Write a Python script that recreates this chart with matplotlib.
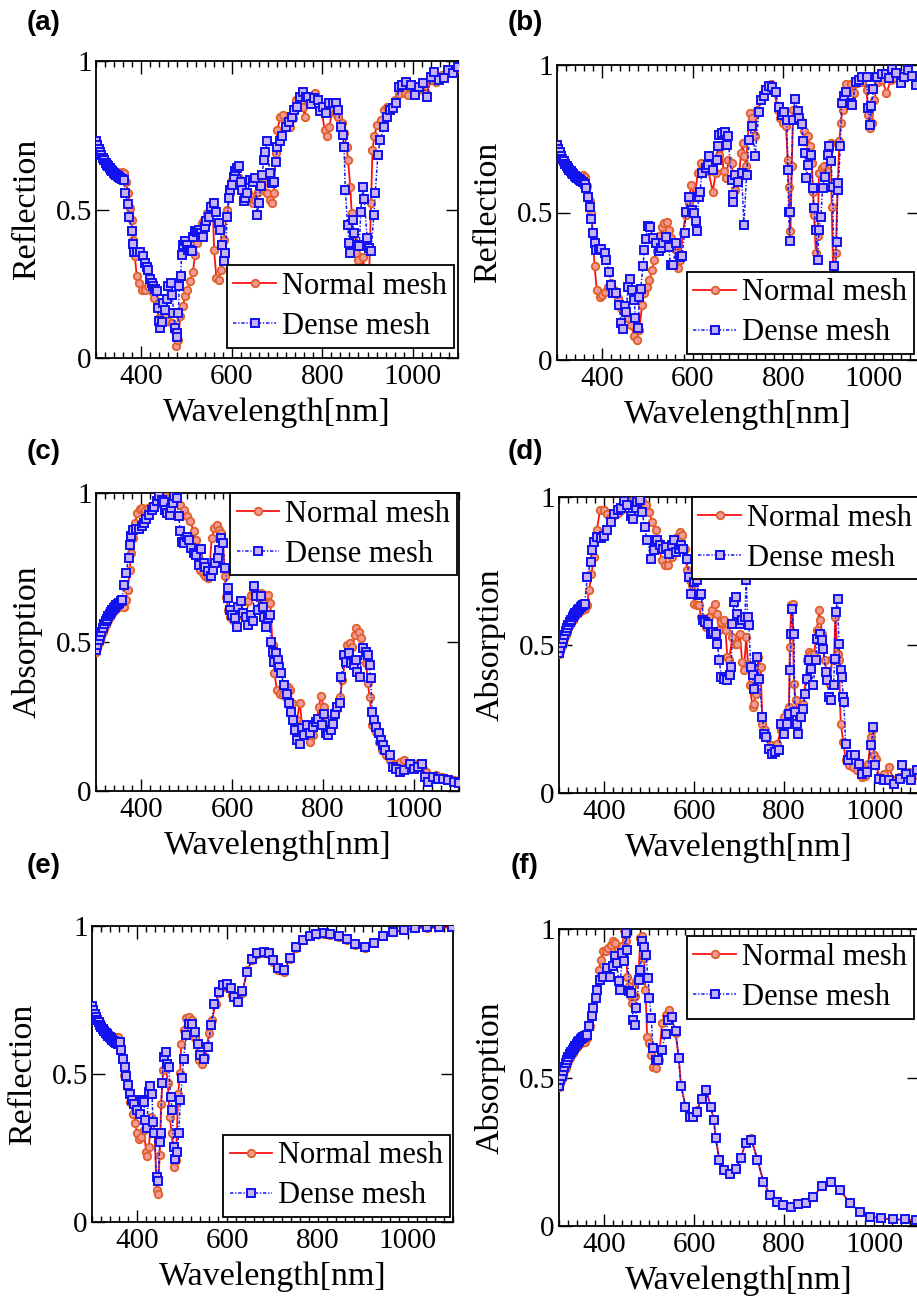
import matplotlib
matplotlib.use("Agg")
import matplotlib.pyplot as plt
from matplotlib.ticker import MultipleLocator, FixedLocator

W, H = 917, 1299
fig = plt.figure(figsize=(W / 100, H / 100), dpi=100)

SERIF = ["Liberation Serif", "DejaVu Serif"]
SANS = ["Liberation Sans", "DejaVu Sans"]

series_labels = ["Normal mesh", "Dense mesh"]
panel_letters = ["(a)", "(b)", "(c)", "(d)", "(e)", "(f)"]
y_labels = ["Reflection", "Reflection", "Absorption", "Absorption", "Reflection", "Absorption"]
x_label = "Wavelength[nm]"
x_ticks = [400, 600, 800, 1000]
y_ticks = [0, 0.5, 1]
y_tick_labels = ["0", "0.5", "1"]

# ---- shared short-wavelength start ----
R_start_dense = [(300, .729), (303, .716), (306, .704), (309, .693), (312, .683), (315, .674), (318, .666),
                 (321, .658), (324, .651), (327, .645), (330, .639), (333, .634), (336, .629), (339, .624),
                 (342, .620), (345, .616), (348, .612), (351, .609), (354, .606), (357, .603)]
R_start_normal = [(300, .727), (303, .716), (306, .705), (309, .695), (312, .686), (315, .678), (318, .670),
                  (321, .663), (324, .656), (327, .650), (330, .645), (333, .640), (336, .636), (339, .632),
                  (342, .628), (345, .625), (348, .623), (351, .622), (354, .624), (357, .626)]
A_start_dense = [(300, .473), (303, .490), (306, .506), (309, .521), (312, .535), (315, .548), (318, .559),
                 (321, .569), (324, .578), (327, .586), (330, .594), (333, .601), (336, .607), (339, .613),
                 (342, .618), (345, .623), (348, .628), (351, .632), (354, .636), (357, .640)]
A_start_normal = [(300, .468), (303, .481), (306, .495), (309, .508), (312, .521), (315, .533), (318, .545),
                  (321, .556), (324, .566), (327, .575), (330, .583), (333, .591), (336, .598), (339, .604),
                  (342, .609), (345, .613), (348, .617), (351, .619), (354, .620), (357, .621)]

# ---- panel (a) ----
a_normal = R_start_normal + [
    (361, .622), (366, .594), (371, .555), (375, .504), (379, .465), (382, .398), (386, .342), (390, .275),
    (396, .252), (401, .230), (408, .228), (416, .241), (423, .224), (428, .202), (434, .168), (440, .135),
    (445, .129), (452, .140), (460, .123), (467, .118), (473, .095), (477, .039), (482, .062), (486, .140),
    (492, .174), (497, .210), (502, .230), (508, .258), (514, .288), (519, .348), (523, .387), (528, .420),
    (534, .454), (539, .465), (545, .488), (552, .516), (558, .510), (561, .364), (566, .269), (571, .263),
    (576, .297), (582, .398), (590, .499), (596, .555), (601, .600), (608, .617), (616, .605), (623, .577),
    (629, .544), (636, .555), (641, .544), (647, .521), (652, .532), (657, .560), (663, .583), (671, .594),
    (677, .555), (684, .532), (689, .521), (693, .555), (697, .689), (701, .768), (707, .813), (714, .818),
    (722, .801), (729, .779), (736, .807), (741, .869), (749, .874), (757, .846), (761, .813), (767, .869),
    (775, .880), (784, .891), (791, .869), (799, .835), (805, .768), (811, .746), (816, .779), (822, .835),
    (829, .824), (835, .813), (843, .790), (848, .757), (854, .712), (857, .667), (862, .577), (865, .488),
    (869, .398), (874, .353), (879, .330), (884, .270), (889, .340), (894, .300), (900, .270), (904, .300),
    (908, .521), (911, .700), (915, .746), (921, .785), (930, .800), (937, .835), (944, .846), (953, .835),
    (961, .869), (970, .889), (982, .891), (990, .886), (1000, .902), (1012, .902), (1020, .920), (1030, .891),
    (1041, .936), (1052, .930), (1064, .953), (1077, .964), (1090, .964), (1100, .975)]
a_dense = R_start_dense + [
    (361, .600), (365, .557), (370, .520), (373, .476), (379, .428), (381, .383), (385, .356), (391, .356),
    (397, .356), (403, .342), (408, .320), (413, .305), (416, .295), (419, .266), (423, .252), (427, .241),
    (431, .232), (434, .224), (436, .168), (439, .125), (442, .100), (446, .120), (449, .185), (452, .163),
    (456, .200), (460, .243), (465, .254), (469, .213), (471, .151), (475, .100), (478, .085), (480, .070),
    (482, .150), (484, .241), (487, .275), (489, .348), (493, .381), (497, .395), (500, .380), (504, .364),
    (508, .362), (512, .359), (514, .409), (519, .429), (524, .425), (528, .432), (532, .420), (536, .409),
    (540, .440), (544, .460), (549, .476), (555, .510), (560, .521), (566, .493), (571, .456), (575, .432),
    (578, .381), (582, .325), (586, .353), (590, .476), (594, .540), (597, .566), (601, .583), (604, .611),
    (608, .628), (612, .639), (617, .645), (621, .594), (623, .566), (627, .527), (630, .540), (634, .555),
    (641, .600), (647, .594), (652, .605), (656, .482), (660, .521), (664, .580), (667, .617), (671, .667),
    (674, .695), (678, .729), (684, .622), (689, .589), (694, .594), (697, .660), (701, .712), (707, .729),
    (712, .746), (719, .779), (727, .796), (733, .813), (738, .835), (744, .846), (750, .880), (757, .897),
    (764, .880), (769, .878), (775, .855), (782, .875), (790, .869), (796, .830), (801, .846), (808, .826),
    (816, .857), (823, .857), (830, .857), (835, .835), (841, .779), (845, .751), (848, .712), (851, .566),
    (856, .448), (860, .387), (862, .353), (867, .465), (871, .420), (876, .381), (882, .376), (885, .493),
    (889, .577), (893, .535), (899, .404), (904, .370), (908, .359), (914, .482), (917, .555), (923, .684),
    (928, .734), (936, .779), (944, .813), (949, .835), (956, .841), (964, .857), (970, .911), (977, .920),
    (986, .930), (996, .920), (1004, .886), (1014, .911), (1023, .925), (1031, .880), (1041, .947),
    (1048, .964), (1059, .936), (1068, .942), (1079, .970), (1089, .958), (1100, .980)]

# ---- panel (b) ----
b_normal = R_start_normal + [
    (362, .620), (367, .590), (372, .540), (376, .498), (379, .430), (383, .317), (388, .238), (394, .215),
    (400, .221), (405, .232), (412, .249), (420, .260), (427, .238), (434, .209), (442, .175), (449, .164),
    (457, .141), (463, .119), (471, .081), (477, .068), (482, .102), (488, .187), (493, .226), (499, .249),
    (504, .271), (510, .305), (515, .339), (520, .368), (526, .419), (532, .452), (537, .464), (543, .469),
    (547, .441), (552, .413), (560, .376), (567, .311), (572, .339), (578, .430), (584, .492), (591, .532),
    (596, .594), (604, .554), (611, .633), (618, .667), (626, .656), (635, .639), (644, .571), (651, .633),
    (657, .696), (664, .724), (668, .639), (674, .617), (679, .679), (686, .667), (693, .577), (701, .611),
    (707, .701), (710, .735), (714, .690), (718, .656), (721, .747), (726, .837), (732, .820), (738, .758),
    (743, .848), (751, .882), (758, .905), (765, .919), (773, .934), (780, .910), (788, .848), (793, .820),
    (800, .803), (806, .792), (810, .679), (812, .588), (814, .498), (816, .436), (819, .656), (822, .848),
    (828, .831), (834, .820), (839, .809), (846, .775), (854, .758), (859, .724), (863, .667), (866, .571),
    (868, .492), (872, .362), (876, .419), (879, .633), (885, .650), (890, .656), (896, .639), (901, .713),
    (905, .735), (907, .520), (910, .317), (913, .150), (916, .362), (920, .577), (924, .741), (927, .803),
    (931, .848), (938, .934), (949, .934), (957, .905), (964, .939), (975, .944), (984, .916), (988, .831),
    (991, .786), (996, .803), (1001, .882), (1010, .944), (1019, .950), (1028, .905), (1038, .950),
    (1049, .956), (1060, .944), (1071, .967), (1084, .962), (1093, .950)]
b_dense = R_start_dense + [
    (362, .598), (365, .583), (368, .554), (372, .520), (376, .477), (379, .430), (383, .396), (387, .373),
    (392, .376), (398, .376), (405, .362), (409, .339), (415, .300), (420, .255), (424, .226), (431, .226),
    (437, .187), (442, .124), (446, .104), (451, .183), (453, .164), (457, .249), (462, .274), (466, .238),
    (471, .204), (473, .141), (479, .107), (482, .213), (485, .240), (490, .317), (493, .373), (496, .410),
    (501, .455), (506, .452), (512, .413), (519, .396), (525, .371), (529, .379), (534, .396), (541, .416),
    (547, .382), (551, .322), (557, .322), (563, .396), (571, .348), (576, .351), (582, .430), (585, .503),
    (591, .554), (598, .507), (602, .498), (607, .470), (609, .436), (613, .554), (616, .568), (620, .633),
    (629, .650), (633, .662), (637, .692), (645, .645), (654, .679), (655, .724), (659, .764), (665, .770),
    (671, .772), (675, .730), (678, .758), (686, .611), (688, .560), (689, .537), (693, .628), (701, .605),
    (708, .633), (713, .458), (719, .628), (725, .747), (731, .792), (738, .692), (746, .839), (751, .882),
    (757, .896), (762, .916), (769, .929), (776, .925), (783, .910), (790, .857), (797, .829), (802, .840),
    (808, .812), (810, .645), (812, .503), (814, .402), (816, .503), (821, .814), (826, .885), (832, .843),
    (835, .820), (841, .801), (844, .741), (848, .701), (851, .617), (855, .662), (861, .696), (865, .583),
    (868, .515), (872, .441), (876, .339), (879, .441), (883, .486), (887, .583), (892, .622), (898, .696),
    (901, .724), (905, .673), (909, .588), (912, .317), (914, .220), (918, .400), (920, .577), (922, .600),
    (926, .724), (929, .871), (935, .894), (938, .910), (949, .871), (953, .865), (960, .944), (968, .948),
    (975, .959), (984, .959), (988, .854), (991, .797), (995, .862), (999, .919), (1008, .959), (1018, .968),
    (1026, .971), (1034, .957), (1041, .985), (1050, .973), (1060, .939), (1067, .959), (1076, .982),
    (1085, .962), (1093, .933)]

# ---- panel (c) ----
c_normal = A_start_normal + [
    (361, .619), (366, .641), (370, .675), (374, .742), (378, .798), (382, .849), (386, .899), (391, .933),
    (396, .946), (402, .950), (408, .944), (415, .950), (421, .955), (428, .957), (435, .964), (443, .972),
    (450, .980), (457, .989), (465, .991), (472, .983), (479, .978), (486, .961), (494, .944), (501, .924),
    (508, .905), (515, .871), (520, .843), (525, .787), (530, .742), (535, .731), (540, .720), (546, .714),
    (551, .765), (555, .849), (561, .882), (566, .894), (571, .877), (576, .866), (580, .832), (584, .720),
    (587, .652), (591, .608), (595, .585), (602, .574), (609, .591), (616, .591), (624, .602), (631, .591),
    (636, .636), (642, .658), (649, .664), (656, .652), (664, .664), (671, .630), (678, .658), (684, .630),
    (689, .490), (693, .395), (699, .339), (706, .327), (713, .322), (719, .316), (724, .350), (728, .339),
    (733, .294), (739, .226), (743, .238), (749, .296), (754, .226), (762, .215), (771, .165), (778, .187),
    (786, .226), (791, .283), (796, .318), (802, .283), (809, .243), (816, .221), (823, .232), (830, .271),
    (838, .316), (843, .372), (849, .440), (854, .490), (860, .496), (865, .484), (871, .524), (874, .546),
    (880, .535), (885, .512), (888, .484), (892, .468), (896, .428), (899, .361), (903, .316), (909, .221),
    (916, .198), (924, .165), (931, .137), (940, .120), (949, .103), (958, .092), (969, .098), (978, .103),
    (991, .086), (1002, .092), (1013, .092), (1020, .075), (1028, .064), (1039, .047), (1050, .053),
    (1063, .047), (1076, .041), (1089, .036), (1100, .030)]
c_dense = A_start_dense + [
    (362, .692), (366, .731), (372, .781), (375, .826), (378, .856), (382, .877), (388, .879), (395, .879),
    (401, .888), (406, .899), (411, .913), (417, .927), (423, .944), (428, .953), (434, .972), (439, .989),
    (445, .978), (450, .969), (453, .944), (457, .933), (462, .927), (466, .950), (469, .966), (473, .989),
    (478, .983), (482, .922), (486, .871), (489, .837), (495, .832), (500, .854), (505, .843), (510, .815),
    (515, .798), (520, .793), (526, .759), (531, .812), (537, .765), (540, .753), (546, .737), (553, .720),
    (558, .742), (563, .765), (568, .781), (571, .809), (576, .849), (580, .832), (584, .748), (590, .681),
    (592, .647), (596, .608), (600, .591), (606, .580), (610, .552), (614, .619), (619, .636), (624, .596),
    (631, .585), (635, .557), (641, .591), (646, .572), (649, .688), (653, .653), (658, .608), (664, .653),
    (667, .619), (671, .585), (675, .552), (680, .580), (683, .591), (685, .501), (689, .467), (693, .433),
    (696, .462), (700, .439), (703, .417), (708, .395), (714, .355), (720, .327), (725, .294), (730, .266),
    (734, .238), (738, .204), (743, .170), (749, .159), (754, .210), (759, .187), (765, .221), (772, .193),
    (778, .215), (785, .232), (790, .243), (798, .221), (803, .260), (807, .193), (812, .187), (818, .204),
    (823, .226), (827, .260), (832, .283), (838, .294), (841, .383), (847, .456), (852, .434), (858, .462),
    (863, .428), (868, .423), (872, .440), (876, .400), (881, .383), (888, .479), (894, .468), (899, .456),
    (903, .423), (905, .378), (909, .266), (913, .238), (918, .215), (924, .193), (929, .170), (932, .154),
    (938, .137), (947, .120), (954, .081), (962, .075), (969, .064), (978, .070), (991, .092), (1000, .075),
    (1010, .081), (1019, .092), (1024, .047), (1032, .030), (1043, .047), (1054, .041), (1065, .041),
    (1076, .036), (1089, .030), (1100, .028)]

# ---- panel (d) ----
d_normal = A_start_normal + [
    (362, .635), (367, .685), (372, .741), (378, .797), (384, .887), (391, .955), (399, .957), (406, .944),
    (413, .930), (422, .938), (430, .946), (437, .955), (444, .968), (452, .980), (463, .986), (470, .991),
    (478, .994), (485, .986), (493, .972), (500, .949), (507, .916), (515, .887), (522, .848), (528, .786),
    (535, .769), (542, .769), (550, .797), (557, .825), (563, .865), (568, .882), (574, .871), (579, .825),
    (585, .752), (591, .718), (596, .702), (600, .640), (606, .634), (611, .634), (616, .595), (626, .561),
    (633, .595), (641, .617), (646, .640), (650, .606), (656, .550), (661, .578), (667, .583), (670, .550),
    (674, .459), (678, .448), (685, .527), (690, .505), (696, .505), (702, .538), (707, .443), (711, .414),
    (716, .527), (720, .437), (724, .364), (730, .291), (733, .302), (737, .336), (743, .459), (748, .426),
    (752, .234), (757, .212), (763, .189), (770, .161), (778, .150), (785, .167), (793, .212), (800, .257),
    (807, .273), (811, .291), (813, .493), (816, .634), (819, .640), (822, .369), (826, .313), (831, .268),
    (837, .285), (843, .302), (848, .386), (852, .448), (856, .476), (861, .471), (867, .471), (873, .550),
    (878, .617), (881, .583), (885, .538), (890, .448), (896, .403), (902, .369), (907, .454), (911, .448),
    (914, .595), (919, .471), (922, .448), (926, .234), (932, .172), (937, .110), (944, .093), (954, .088),
    (963, .077), (974, .054), (981, .059), (987, .099), (993, .189), (996, .212), (1000, .127), (1004, .116),
    (1011, .054), (1022, .065), (1033, .088), (1044, .043), (1056, .054), (1067, .054), (1078, .071),
    (1093, .060)]
d_dense = A_start_dense + [
    (363, .730), (370, .780), (374, .820), (378, .848), (384, .865), (393, .863), (400, .867), (407, .887),
    (415, .915), (422, .944), (430, .955), (437, .964), (444, .986), (452, .972), (459, .935), (465, .927),
    (470, .964), (474, .983), (479, .989), (485, .950), (490, .899), (496, .854), (504, .792), (510, .820),
    (517, .854), (524, .837), (532, .825), (537, .831), (544, .809), (550, .837), (555, .854), (561, .814),
    (567, .825), (572, .837), (576, .825), (584, .792), (589, .730), (593, .673), (600, .713), (606, .718),
    (611, .668), (616, .673), (621, .583), (625, .578), (630, .572), (637, .538), (642, .544), (648, .538),
    (652, .505), (656, .448), (661, .392), (667, .386), (674, .381), (680, .398), (683, .426), (685, .572),
    (689, .645), (693, .662), (696, .606), (702, .572), (707, .583), (713, .595), (716, .718), (719, .595),
    (722, .566), (726, .426), (730, .398), (733, .352), (740, .459), (745, .386), (752, .257), (756, .200),
    (759, .189), (767, .150), (774, .133), (781, .139), (789, .144), (794, .234), (800, .200), (806, .234),
    (811, .268), (813, .414), (816, .538), (818, .623), (822, .538), (824, .273), (828, .234), (831, .200),
    (837, .257), (843, .285), (847, .336), (851, .386), (855, .448), (859, .420), (865, .364), (870, .448),
    (874, .521), (880, .538), (884, .516), (887, .488), (893, .409), (896, .381), (900, .324), (904, .313),
    (910, .364), (913, .454), (915, .611), (919, .657), (922, .505), (926, .414), (928, .392), (932, .324),
    (933, .307), (937, .167), (942, .110), (949, .127), (957, .127), (967, .099), (974, .065), (985, .071),
    (994, .161), (998, .223), (1002, .093), (1011, .048), (1022, .043), (1033, .043), (1044, .032),
    (1058, .048), (1063, .093), (1070, .065), (1083, .043), (1096, .077)]

# ---- panel (e) ----
e_normal = R_start_normal + [
    (360, .610), (363, .581), (367, .547), (372, .496), (378, .457), (385, .406), (391, .366), (396, .333),
    (400, .299), (404, .282), (409, .287), (415, .310), (420, .237), (422, .222), (426, .254), (431, .355),
    (435, .338), (439, .304), (443, .107), (446, .096), (450, .225), (453, .400), (458, .513), (463, .535),
    (468, .468), (472, .355), (477, .299), (481, .186), (486, .209), (491, .434), (495, .502), (498, .603),
    (503, .648), (509, .688), (515, .693), (522, .682), (529, .620), (537, .547), (544, .535), (551, .558),
    (559, .637), (566, .682), (574, .738), (581, .772), (590, .795), (600, .797), (611, .767), (622, .744),
    (633, .772), (644, .851), (655, .885), (666, .905), (681, .910), (692, .905), (702, .880), (712, .852),
    (725, .845), (738, .888), (753, .925), (768, .952), (783, .965), (797, .972), (814, .974), (828, .971),
    (847, .964), (864, .952), (883, .935), (904, .925), (925, .942), (945, .965), (968, .980), (991, .986),
    (1016, .993), (1043, .994), (1069, .995), (1098, .995)]
e_dense = R_start_dense + [
    (362, .609), (365, .581), (369, .552), (373, .524), (376, .493), (380, .462), (384, .434), (389, .411),
    (394, .400), (400, .378), (406, .366), (411, .411), (415, .406), (417, .344), (421, .316), (426, .440),
    (429, .459), (433, .434), (435, .338), (438, .299), (443, .152), (446, .139), (450, .271), (452, .299),
    (455, .468), (459, .558), (463, .575), (466, .535), (470, .524), (474, .423), (478, .378), (481, .254),
    (485, .214), (489, .237), (492, .299), (496, .411), (500, .488), (503, .552), (509, .631), (515, .669),
    (522, .669), (528, .643), (535, .601), (540, .564), (548, .552), (557, .590), (564, .665), (571, .738),
    (581, .778), (590, .800), (600, .803), (607, .789), (614, .761), (623, .744), (633, .781), (644, .846),
    (655, .887), (666, .908), (681, .913), (692, .908), (702, .885), (712, .857), (725, .851), (738, .891),
    (753, .928), (768, .953), (783, .966), (797, .973), (814, .975), (828, .972), (847, .966), (864, .955),
    (883, .939), (904, .928), (925, .944), (945, .966), (968, .981), (991, .986), (1016, .994), (1043, .995),
    (1069, .995), (1098, .995)]

# ---- panel (f) ----
f_normal = A_start_normal + [
    (363, .633), (368, .672), (374, .717), (382, .773), (389, .863), (393, .897), (398, .925), (404, .925),
    (409, .936), (415, .947), (421, .958), (424, .953), (430, .930), (435, .897), (441, .942), (444, .996),
    (448, .958), (452, .840), (456, .807), (459, .773), (463, .751), (468, .773), (472, .824), (477, .863),
    (481, .970), (485, .975), (489, .902), (492, .796), (496, .638), (501, .616), (505, .576), (509, .537),
    (515, .531), (522, .560), (529, .683), (537, .711), (544, .728), (550, .706), (559, .649), (566, .570),
    (571, .475), (581, .405), (591, .372), (598, .370), (607, .390), (617, .432), (627, .462), (637, .402),
    (644, .360), (648, .300), (656, .225), (666, .190), (680, .178), (693, .192), (704, .230), (715, .283),
    (727, .295), (741, .225), (754, .150), (769, .105), (784, .083), (798, .072), (815, .066), (831, .073),
    (848, .080), (865, .097), (884, .135), (905, .150), (925, .122), (946, .077), (968, .049), (992, .032),
    (1016, .026), (1042, .022), (1068, .022), (1094, .020)]
f_dense = A_start_dense + [
    (363, .644), (367, .672), (373, .706), (376, .734), (382, .767), (385, .796), (391, .829), (398, .840),
    (406, .868), (413, .840), (421, .874), (424, .908), (428, .885), (433, .824), (435, .796), (441, .919),
    (444, .891), (448, .987), (452, .930), (456, .790), (461, .784), (465, .694), (468, .678), (472, .734),
    (477, .829), (481, .863), (485, .958), (489, .941), (493, .913), (498, .835), (501, .767), (505, .700),
    (509, .599), (515, .560), (520, .560), (528, .593), (537, .647), (543, .692), (550, .703), (559, .655),
    (566, .565), (571, .470), (581, .402), (591, .366), (598, .366), (607, .385), (617, .427), (627, .458),
    (637, .399), (644, .357), (648, .296), (656, .222), (666, .187), (680, .175), (693, .191), (704, .228),
    (715, .279), (727, .290), (741, .222), (754, .149), (769, .104), (784, .082), (798, .071), (815, .065),
    (831, .073), (848, .079), (865, .096), (884, .133), (905, .149), (925, .121), (946, .076), (968, .048),
    (992, .031), (1016, .026), (1042, .022), (1068, .022), (1094, .020)]

# ---- layout (pixel boxes: left, top, right, bottom) ----
boxes = [(96, 61, 458, 358), (557, 65, 919, 360),
         (96, 493, 459, 791), (559, 497, 919, 793),
         (92, 926, 453, 1222), (559, 929, 919, 1226)]
letter_pos = [(44, 23), (525, 23), (44, 452), (525, 452), (44, 866), (525, 866)]
legend_loc = ["lower right", "lower right", "upper right", "upper right", "lower right", "upper right"]
legend_anchor = [(0.989, 0.034), (0.986, 0.02), (0.995, 1.0), (1.0, 1.0), (0.992, 0.017), (0.986, 0.976)]

data = [(a_normal, a_dense), (b_normal, b_dense), (c_normal, c_dense),
        (d_normal, d_dense), (e_normal, e_dense), (f_normal, f_dense)]

for i, (l, t, r, b) in enumerate(boxes):
    ax = fig.add_axes([l / W, 1 - b / H, (r - l) / W, (b - t) / H])
    nrm, dns = data[i]
    ax.plot([p[0] for p in nrm], [p[1] for p in nrm], color="#ff1010", lw=1.3, ls="-",
            marker="o", ms=5.4, mfc="#f29a98", mec="#e0602a", mew=1.3, label=series_labels[0], zorder=3)
    ax.plot([p[0] for p in dns], [p[1] for p in dns], color="#1515f5", lw=1.1, ls=(0, (2.2, 1.2, 0.8, 1.2)),
            marker="s", ms=5.8, mfc="#c8b2f2", mec="#1010f0", mew=1.4, label=series_labels[1], zorder=4)
    ax.set_xlim(300, 1100)
    ax.set_ylim(0, 1)
    ax.xaxis.set_major_locator(FixedLocator(x_ticks))
    ax.xaxis.set_minor_locator(MultipleLocator(20))
    ax.set_yticks(y_ticks)
    ax.set_yticklabels(y_tick_labels)
    ax.tick_params(which="both", direction="in", top=True, right=True, width=1.0, color="black")
    ax.tick_params(which="major", length=9, pad=4, labelsize=21)
    ax.tick_params(which="minor", length=4.5)
    ax.tick_params(axis="y", which="major", pad=3)
    for lab in ax.get_xticklabels() + ax.get_yticklabels():
        lab.set_family(SERIF)
    for sp in ax.spines.values():
        sp.set_linewidth(1.3)
    leg = ax.legend(loc=legend_loc[i], bbox_to_anchor=legend_anchor[i], borderaxespad=0,
                    prop={"family": SERIF, "size": 22}, frameon=True, fancybox=False,
                    handlelength=1.4, handletextpad=0.2, borderpad=0.22, labelspacing=0.36,
                    framealpha=1.0)
    leg.get_frame().set_edgecolor("black")
    leg.get_frame().set_linewidth(1.3)
    leg.set_zorder(10)
    # axis labels
    cy = (t + b) / 2
    fig.text((l + r) / 2 / W, 1 - (b + 55) / H, x_label, ha="center", va="center",
             family=SERIF, fontsize=24.5)
    fig.text((l - 69) / W, 1 - cy / H, y_labels[i], ha="center", va="center", rotation=90,
             family=SERIF, fontsize=24.5)
    lx, ly = letter_pos[i]
    fig.text(lx / W, 1 - ly / H, panel_letters[i], ha="center", va="center",
             family=SANS, fontsize=20, fontweight="bold")

fig.savefig("out.png", dpi=100)
